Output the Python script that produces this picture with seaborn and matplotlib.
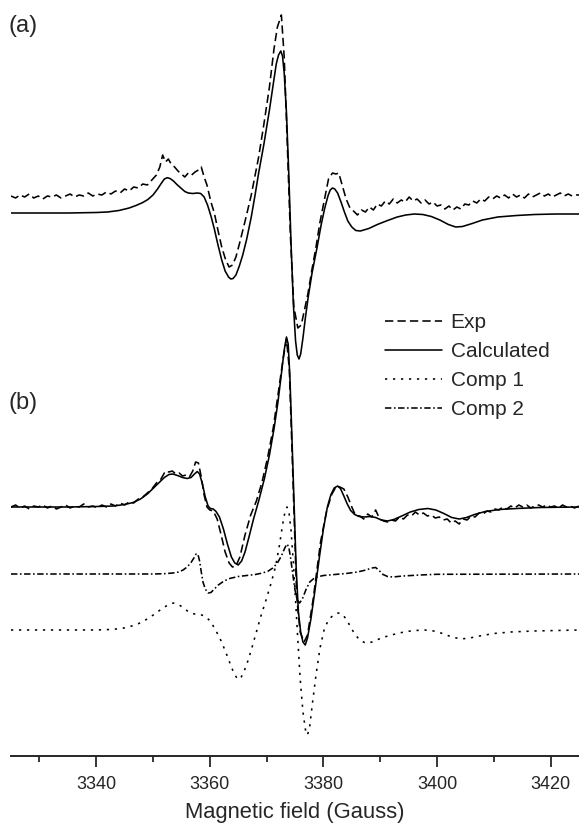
import numpy as np
import pandas as pd
import seaborn as sns
import matplotlib.pyplot as plt
from matplotlib.lines import Line2D

# ---- data (field in Gauss, signal relative to each baseline) ----
a_calc_x = [3325, 3335, 3340, 3342, 3344, 3345.8, 3347, 3348.2, 3349.1, 3350, 3350.8, 3351.5,
            3352.0, 3352.5, 3353.0, 3353.6, 3354.3, 3354.9, 3355.6, 3356.2, 3357.0, 3357.8,
            3358.4, 3359.0, 3359.6, 3360.2, 3360.8, 3361.4, 3362.1, 3362.7, 3363.3, 3363.7,
            3364.1, 3364.6, 3365.2, 3365.8, 3366.5, 3367.3, 3368.0, 3368.6, 3369.5, 3370.5,
            3371.2, 3371.7, 3372.1, 3372.5, 3372.8, 3373.1, 3373.5, 3373.9, 3374.3, 3374.7,
            3375.1, 3375.4, 3375.7, 3376.0, 3376.4, 3376.8, 3377.3, 3378.0, 3378.9, 3379.6,
            3380.2, 3380.8, 3381.2, 3381.6, 3382.0, 3382.5, 3383.1, 3383.7, 3384.3, 3385.0,
            3385.7, 3386.5, 3388.0, 3389.5, 3391.3, 3393, 3394.5, 3396, 3397.5, 3399, 3400.5,
            3402, 3403.3, 3404.5, 3406.2, 3408, 3410.7, 3414, 3417.2, 3421, 3425]
a_calc_y = [0, 0, 0.5, 1, 2.5, 5, 7.5, 10.5, 13.5, 18, 24, 30,
            34, 35.3, 34.5, 32, 28, 25, 21.5, 20, 19.5, 20,
            19.5, 16, 8, -3, -16, -31, -47, -58, -64, -66,
            -65.5, -62, -53, -42, -26, -4, 19, 40, 68, 103,
            130, 149, 158, 162, 157, 140, 100, 40, -30, -90,
            -128, -142, -146, -141, -125, -106, -85, -60, -34, -12,
            4, 17, 23, 25, 24, 20, 11, 1, -8, -14,
            -17.5, -18, -15.5, -11.5, -7.5, -4, -2, -1, -1.5, -3.5, -7,
            -11.5, -14, -13.5, -10.5, -7, -4, -2.5, -1.5, -1, -1]

a_exp_x = [3325, 3325.8, 3326.6, 3327.4, 3328.2, 3329, 3329.8, 3330.6, 3331.4, 3332.2, 3333,
           3333.8, 3334.6, 3335.4, 3336.2, 3337, 3337.8, 3338.6, 3339.4, 3340.2, 3341, 3341.8,
           3342.6, 3343.4, 3344.2, 3345, 3345.8, 3346.6, 3347.4, 3348.2, 3349, 3349.8, 3350.6,
           3351.2, 3351.7, 3352.2, 3352.7, 3353.2, 3353.8, 3354.4, 3355, 3355.6, 3356.2, 3356.8,
           3357.4, 3358, 3358.5, 3359.0, 3359.5, 3360.2, 3360.8, 3361.5, 3362.1, 3362.8, 3363.4,
           3364.0, 3364.6, 3365.3, 3366.3, 3367.3, 3368.6, 3369.5, 3370.5, 3371.3, 3371.9,
           3372.6, 3373.1, 3373.6, 3374.2, 3374.8, 3375.5, 3376.1, 3376.7, 3377.3, 3378.0,
           3378.7, 3379.4, 3380.2, 3380.9, 3381.6, 3382.2, 3382.7, 3383.3, 3384.0, 3384.6,
           3385.3, 3386.0, 3386.7, 3387.4, 3388.1, 3388.8, 3389.5, 3390.2, 3390.9, 3391.6,
           3392.3, 3393, 3393.7, 3394.4, 3395.1, 3395.8, 3396.5, 3397.2, 3397.9, 3398.6, 3399.3,
           3400, 3400.7, 3401.4, 3402.1, 3402.8, 3403.5, 3404.2, 3404.9, 3405.6, 3406.3, 3407,
           3407.7, 3408.4, 3409.1, 3409.8, 3410.5, 3411.2, 3411.9, 3412.6, 3413.3, 3414, 3414.7,
           3415.4, 3416.1, 3416.8, 3417.5, 3418.2, 3418.9, 3419.6, 3420.3, 3421, 3421.7, 3422.4,
           3423.1, 3423.8, 3424.5, 3425]
a_exp_y = [1, -1, 2, 0, 3, -1, 1, -2, 1, 0, 2,
           -1, 1, 3, 0, 2, 1, 4, 1, 3, 2, 5,
           3, 6, 4, 8, 6, 10, 9, 13, 12, 17, 22,
           30, 42, 35, 38, 33, 30, 26, 23, 20, 24, 22,
           25, 27, 30, 20, 12, -5, -16, -35, -50, -63, -70,
           -68, -60, -45, -22, 2, 40, 72, 110, 148, 170,
           182, 140, 60, -40, -110, -131, -128, -112, -96, -72,
           -50, -25, -2, 18, 24, 23, 24, 12, -2, -10,
           -14, -18, -13, -15, -10, -13, -7, -9, -4, -7,
           -2, -6, -3, -5, 0, -4, -2, -6, -3, -7, -5,
           -9, -8, -12, -9, -13, -10, -12, -7, -8, -4, -6,
           -2, -4, 0, -2, 1, -1, 2, -1, 3, 0, 2,
           -1, 3, 0, 2, 4, 1, 3, 0, 2, 4, 1,
           3, 1, 2, 2]

b_calc_x = [3325, 3335, 3340, 3343, 3345, 3346.5, 3347.8, 3349, 3350, 3351, 3352, 3352.8,
            3353.5, 3354.3, 3355.2, 3356.0, 3356.7, 3357.3, 3357.8, 3358.2, 3358.7, 3359.2,
            3359.7, 3360.1, 3360.6, 3361.1, 3361.7, 3362.4, 3363.1, 3363.8, 3364.4, 3365.0,
            3365.6, 3366.2, 3366.9, 3367.7, 3368.6, 3369.6, 3370.5, 3371.3, 3372.0, 3372.6,
            3373.1, 3373.5, 3373.8, 3374.1, 3374.4, 3374.8, 3375.2, 3375.6, 3376.0, 3376.4,
            3376.8, 3377.2, 3377.8, 3378.5, 3379.3, 3380.0, 3380.7, 3381.3, 3381.9, 3382.5,
            3383.0, 3383.6, 3384.2, 3384.8, 3385.5, 3386.3, 3387.2, 3388.2, 3389.2, 3390.2,
            3391.3, 3392.4, 3393.8, 3395.3, 3396.8, 3398.4, 3399.8, 3401.2, 3402.6, 3403.9,
            3405.2, 3406.6, 3408.5, 3411, 3414, 3418, 3425]
b_calc_y = [0, 0, 0.5, 1, 2.5, 4.5, 8, 13, 18.5, 24, 29.5, 32.5,
            33, 31.5, 29.5, 28.5, 29.5, 33, 35.5, 33, 23, 10,
            1, -1.5, -2, -4.5, -10, -22, -37, -50, -56, -58,
            -54, -45, -30, -12, 6, 28, 52, 78, 105, 133,
            157, 170, 163, 130, 80, 10, -60, -105, -125, -135,
            -138, -131, -112, -84, -50, -22, 0, 12, 19, 21,
            18.5, 11, 3, -3.5, -7.5, -9.5, -10, -9.5, -10.5, -13,
            -14, -12.5, -9, -5, -2.5, -1.5, -3, -6.5, -10.5, -12,
            -10.5, -7.5, -4.5, -2.5, -1.5, -0.5, 0]

b_exp_x = [3325, 3325.8, 3326.6, 3327.4, 3328.2, 3329, 3329.8, 3330.6, 3331.4, 3332.2, 3333,
           3333.8, 3334.6, 3335.4, 3336.2, 3337, 3337.8, 3338.6, 3339.4, 3340.2, 3341, 3341.8,
           3342.6, 3343.4, 3344.2, 3345, 3345.8, 3346.6, 3347.4, 3348.2, 3349, 3349.8, 3350.6,
           3351.4, 3352.2, 3352.8, 3353.4, 3354.0, 3354.6, 3355.2, 3355.8, 3356.4, 3357.0,
           3357.5, 3358.0, 3358.5, 3359.0, 3359.5, 3360.0, 3360.6, 3361.3, 3362.0, 3362.7,
           3363.4, 3364.0, 3364.6, 3365.3, 3366.2, 3367.2, 3368.2, 3369.2, 3370.2, 3371.2,
           3372.2, 3372.9, 3373.5, 3374.0, 3374.6, 3375.3, 3375.9, 3376.6, 3377.2, 3378.2,
           3379.5, 3380.6, 3381.5, 3382.3, 3382.9, 3383.6, 3384.3, 3385.0, 3385.7, 3386.4,
           3387.1, 3387.8, 3388.5, 3389.2, 3389.9, 3390.6, 3391.3, 3392.0, 3392.7, 3393.4,
           3394.1, 3394.8, 3395.5, 3396.2, 3396.9, 3397.6, 3398.3, 3399, 3399.7, 3400.4, 3401.1,
           3401.8, 3402.5, 3403.2, 3403.9, 3404.6, 3405.3, 3406, 3406.7, 3407.4, 3408.1, 3408.8,
           3409.5, 3410.2, 3410.9, 3411.6, 3412.3, 3413, 3413.7, 3414.4, 3415.1, 3415.8, 3416.5,
           3417.2, 3417.9, 3418.6, 3419.3, 3420, 3420.7, 3421.4, 3422.1, 3422.8, 3423.5, 3424.2,
           3425]
b_exp_y = [0, 2, -1, 1, -2, 1, 0, 2, -1, 1, -2,
           0, 2, -1, 1, 0, 3, 0, 1, -1, 2, 0,
           3, 1, 4, 2, 5, 4, 8, 10, 14, 18, 24,
           28, 36, 35, 36, 33, 34, 31, 32, 30, 36,
           45, 44, 30, 12, 0, -3, -4, -12, -28, -45,
           -56, -60, -59, -50, -28, -8, 6, 25, 50, 80,
           120, 148, 168, 138, 35, -90, -125, -135, -128, -92,
           -35, -3, 13, 21, 20, 18, 10, 0, -9, -9,
           -12, -7, -10, -3, -12, -14, -15, -13, -14, -10,
           -12, -8, -9, -5, -8, -6, -9, -8, -11, -10, -13,
           -12, -16, -14, -17, -12, -13, -9, -10, -6, -7, -4,
           -5, -2, -3, 0, -2, 1, -1, 2, 0, 2, -1,
           1, 2, 0, 2, 0, 1, -1, 2, 0, 1, -1,
           1]

comp1_x = [3325, 3340, 3342.5, 3344.5, 3346, 3347.5, 3349, 3350.3, 3351.5, 3352.6, 3353.6,
           3354.5, 3355.4, 3356.3, 3357.3, 3358.3, 3359.1, 3359.8, 3360.5, 3361.2, 3362,
           3362.8, 3363.6, 3364.3, 3364.9, 3365.4, 3366.0, 3366.7, 3367.4, 3368.2, 3369.0,
           3369.9, 3370.8, 3371.6, 3372.3, 3372.8, 3373.2, 3373.6, 3373.95, 3374.3, 3374.7,
           3375.1, 3375.5, 3375.9, 3376.4, 3376.9, 3377.2, 3377.6, 3378.1, 3378.7, 3379.4,
           3380.2, 3381.0, 3381.8, 3382.6, 3383.3, 3384.0, 3384.7, 3385.5, 3386.4, 3387.4,
           3388.6, 3389.8, 3391.3, 3393, 3394.6, 3396.2, 3397.8, 3399.4, 3401, 3402.6, 3404.2,
           3405.8, 3407.5, 3410, 3413, 3417, 3425]
comp1_y = [0, 0, 0.5, 1.5, 3.5, 6.5, 11, 16, 21, 25, 27,
           25.5, 22, 18, 16, 15.5, 14, 10.5, 5, -2, -11,
           -22, -34, -44, -49, -48.5, -42, -31, -18, -2, 14,
           30, 47, 64, 86, 105, 117, 123, 117, 100, 68,
           30, -10, -48, -82, -102, -105, -96, -72, -45, -18,
           2, 11, 15, 17, 16, 11, 4, -4, -10, -13,
           -12, -9, -6, -3.5, -1.5, -0.5, 0, -1, -3.5, -7, -9,
           -8, -6, -3.5, -2, -1, 0]

comp2_x = [3325, 3350, 3352, 3353.5, 3354.5, 3355.3, 3356, 3356.7, 3357.2, 3357.6, 3357.9,
           3358.2, 3358.5, 3358.8, 3359.2, 3359.7, 3360.2, 3360.8, 3361.5, 3362.5, 3363.5,
           3365, 3366.5, 3368, 3369.3, 3370.3, 3371.1, 3371.9, 3372.6, 3373.2, 3373.6, 3373.9,
           3374.2, 3374.6, 3375.0, 3375.4, 3375.8, 3376.3, 3376.9, 3377.6, 3378.5, 3380, 3382,
           3384, 3386, 3387.5, 3388.5, 3389.2, 3389.8, 3390.5, 3391.3, 3392.2, 3394, 3397,
           3400, 3425]
comp2_y = [0, 0, 0.3, 1, 2, 4, 7, 11.5, 16, 20, 20,
           13, 2, -8, -15, -19, -18.5, -15, -11, -7, -4.5,
           -2.5, -1.5, -0.5, 1, 3, 6, 11, 18, 26, 30, 27,
           17, 0, -16, -26, -29, -25, -16, -8, -3.5, -1.5, -0.5,
           0.5, 2, 4, 6, 6.5, 3.5, -0.5, -2.5, -3, -2, -1,
           -0.3, 0]

# vertical stacking of the traces (baseline heights)
offset_a_exp, offset_a_calc = 559, 543
offset_b = 249
offset_comp2, offset_comp1 = 182, 126

# ---- figure ----
sns.set_style("ticks")
plt.rcParams['font.family'] = ['Liberation Sans', 'DejaVu Sans']

fig = plt.figure(figsize=(5.79, 8.23), dpi=100)
ax = fig.add_axes([11 / 579, 67 / 823, 568 / 579, 756 / 823])

lw = 1.15
dash_exp = (0, (5.2, 2.6))
dot_c1 = (0, (1.4, 3.6))
dashdot_c2 = (0, (4.0, 1.6, 1.0, 1.6))


def trace(xs, ys, off, ls):
    df = pd.DataFrame({'field': xs, 'signal': np.array(ys, dtype=float) + off})
    sns.lineplot(data=df, x='field', y='signal', ax=ax, color='black',
                 linewidth=lw, linestyle=ls, estimator=None, sort=False)


trace(a_exp_x, a_exp_y, offset_a_exp, dash_exp)
trace(a_calc_x, a_calc_y, offset_a_calc, '-')
trace(b_exp_x, b_exp_y, offset_b, dash_exp)
trace(b_calc_x, b_calc_y, offset_b, '-')
trace(comp2_x, comp2_y, offset_comp2, dashdot_c2)
trace(comp1_x, comp1_y, offset_comp1, dot_c1)

ax.set_xlim(3325, 3425)
ax.set_ylim(0, 756)
ax.set_xticks([3340, 3360, 3380, 3400, 3420])
ax.set_xticks([3330, 3350, 3370, 3390, 3410], minor=True)
ax.set_yticks([])
ax.set_ylabel('')
ax.set_xlabel('Magnetic field (Gauss)', fontsize=15.8, labelpad=6)
ax.tick_params(axis='x', which='major', length=7.7, width=1.3, labelsize=13, pad=7)
ax.tick_params(axis='x', which='minor', length=4, width=1.3)
sns.despine(ax=ax, left=True)
ax.spines['bottom'].set_linewidth(1.4)
ax.patch.set_alpha(0)

fig.text(9 / 579, 1 - 26 / 823, '(a)', fontsize=17, va='center', ha='left')
fig.text(9 / 579, 1 - 403 / 823, '(b)', fontsize=17, va='center', ha='left')

handles = [Line2D([], [], color='black', lw=lw, linestyle=dash_exp),
           Line2D([], [], color='black', lw=lw, linestyle='-'),
           Line2D([], [], color='black', lw=lw, linestyle=dot_c1),
           Line2D([], [], color='black', lw=lw, linestyle=dashdot_c2)]
fig.legend(handles, ['Exp', 'Calculated', 'Comp 1', 'Comp 2'],
           loc='upper left', bbox_to_anchor=(385 / 579, 1 - 313 / 823),
           frameon=False, fontsize=15, handlelength=2.75, handletextpad=0.4,
           labelspacing=0.48, borderpad=0, borderaxespad=0)

fig.savefig('out.png', dpi=100)
